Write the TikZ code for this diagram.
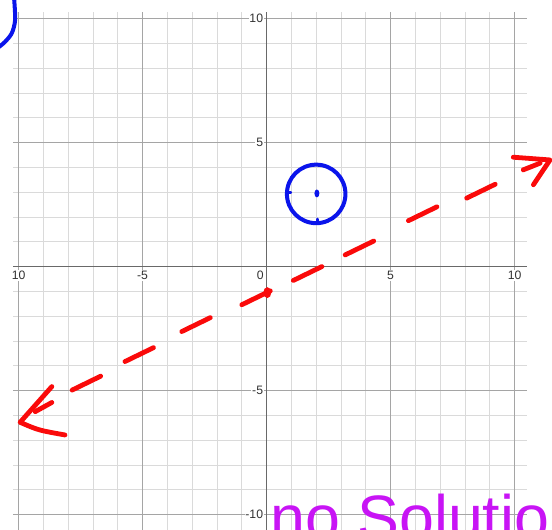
\documentclass[tikz,border=0pt]{standalone}
\usepackage{fontspec}
\setmainfont{Liberation Sans}
\usetikzlibrary{arrows.meta}
\definecolor{minorgray}{RGB}{218,218,218}
\definecolor{majorgray}{RGB}{165,165,165}
\definecolor{axisgray}{RGB}{105,105,105}
\definecolor{labelgray}{RGB}{50,50,50}
\definecolor{penred}{RGB}{250,10,10}
\definecolor{penblue}{RGB}{10,20,235}
\definecolor{penpurple}{RGB}{200,20,245}

\begin{document}
\begin{tikzpicture}[
  font=\fontsize{14}{14}\selectfont,
  minor/.style={draw=minorgray,line width=0.9pt},
  major/.style={draw=majorgray,line width=1pt},
  axisline/.style={draw=axisgray,line width=1.4pt},
  lab/.style={text=labelgray,fill=white,inner sep=1pt},
  redpen/.style={draw=penred,line width=5.5pt,line cap=round,line join=round},
  bluepen/.style={draw=penblue,line width=4.6pt,line cap=round,line join=round}
]
\useasboundingbox (-10.75,-10.62) rectangle (11.51,10.75);
\clip (-10.75,-10.62) rectangle (11.51,10.75);
% grid
\foreach \x in {-9,...,9} \draw[minor] (\x,-10.62) -- (\x,10.27);
\foreach \y in {-9,...,9} \draw[minor] (-10.22,\y) -- (10.5,\y);
\foreach \x in {-10,-5,5,10} \draw[major] (\x,-10.62) -- (\x,10.27);
\foreach \y in {-10,-5,5,10} \draw[major] (-10.22,\y) -- (10.5,\y);
\draw[axisline] (-10.22,0) -- (10.5,0);
\draw[axisline] (0,-10.62) -- (0,10.27);
% tick labels
\node[lab,anchor=north] (xlm10) at (-10,-0.15) {10};
\foreach \x in {-5,5,10} \node[lab,anchor=north] (xl\x) at (\x,-0.15) {\x};
\node[lab,anchor=north east] (orig) at (-0.08,-0.15) {0};
\foreach \y in {10,5,-5,-10} \node[lab,anchor=east] (yl\y) at (-0.1,\y) {\y};
% blue circle with dot
\draw[bluepen] (2,2.93) circle (1.18);
\fill[penblue] (2.03,2.95) ellipse (0.1 and 0.16);
\draw[bluepen,line width=3pt] (0.84,2.98) -- (0.98,2.98);
\draw[bluepen,line width=3pt] (2.05,1.78) -- (2.05,1.92);
\draw[bluepen] plot[smooth] coordinates {(-10.18,10.8) (-10.14,9.95) (-10.27,9.42) (-10.54,9.07) (-10.8,8.85)};
% red dashed line
\foreach \a/\b in {-7.84/-4.98, -5.71/-3.83, -3.42/-2.62, -1.0/-1.54, 1.08/-0.56, 3.17/0.47, 5.72/1.85, 8.07/2.76}
  \draw[redpen] (\a,\b) -- ++(1.15,0.56);
\fill[penred] (0.03,-1.05) ellipse (0.16 and 0.22);
\draw[redpen] (-8.66,-4.84) -- (-9.94,-6.28) .. controls (-9.2,-6.6) .. (-8.13,-6.79);
\draw[redpen] (-9.33,-5.85) -- (-8.66,-5.48);
\draw[redpen] (9.95,4.41) -- (11.43,4.30) -- (10.76,3.30);
\draw[redpen] (10.35,3.9) -- (11.03,4.17);
% note
\node[text=penpurple,anchor=base west,inner sep=0pt,font=\fontsize{72}{72}\selectfont] (note) at (0.14,-11.0) {no Solution};
\end{tikzpicture}
\end{document}
